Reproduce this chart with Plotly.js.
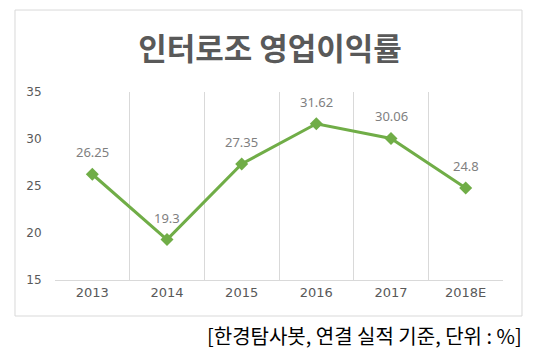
<!DOCTYPE html>
<html>
<head>
<meta charset="utf-8">
<script src="https://cdn.plot.ly/plotly-3.0.1.min.js"></script>
<style>html,body{margin:0;padding:0;background:#fff;}#chart{width:535px;height:354px;}</style>
</head>
<body>
<div id="chart"></div>
<script>
const years = ['2013', '2014', '2015', '2016', '2017', '2018E'];
const margins = [26.25, 19.3, 27.35, 31.62, 30.06, 24.8];
const valueLabels = ['26.25', '19.3', '27.35', '31.62', '30.06', '24.8'];
const yTicks = [15, 20, 25, 30, 35];
const titleText = '인터로조 영업이익률';
const sourceText = '[한경탐사봇, 연결 실적 기준, 단위 : %]';

const cjk = '"Noto Sans CJK KR", "Noto Sans", sans-serif';
const latin = '"DejaVu Sans", sans-serif';

const trace = {
  x: years, y: margins, type: 'scatter', mode: 'lines+markers',
  line: {color: '#70ad47', width: 3},
  marker: {symbol: 'diamond', size: 10, color: '#70ad47'},
  hoverinfo: 'skip', cliponaxis: false
};

// on a category axis, annotation x is the category index
const annotations = years.map((yr, i) => ({
  x: i, y: margins[i], xref: 'x', yref: 'y', text: valueLabels[i],
  showarrow: false, yshift: 22, font: {family: '"Noto Sans", sans-serif', size: 13, color: '#7f7f7f'}
}));
annotations.push({
  xref: 'paper', yref: 'paper', x: 1.047, y: (280 - 335) / 188, xanchor: 'right', yanchor: 'middle',
  text: sourceText, showarrow: false, font: {family: cjk, size: 20, color: '#000000'}
});

const layout = {
  width: 535, height: 354,
  margin: {l: 55, r: 32, t: 92, b: 74},
  paper_bgcolor: '#ffffff', plot_bgcolor: '#ffffff',
  showlegend: false,
  title: {text: titleText, x: 270 / 535, xref: 'container', xanchor: 'center', y: 1 - 49/354, yref: 'container', yanchor: 'middle',
          font: {family: cjk, size: 31, color: '#595959', weight: 'bold'}},
  xaxis: {type: 'category', categoryorder: 'array', categoryarray: years, range: [-0.5, years.length - 0.5],
          tickson: 'boundaries', showgrid: true, gridcolor: '#d9d9d9', gridwidth: 1,
          showline: true, linecolor: '#d9d9d9', linewidth: 1, zeroline: false,
          ticks: 'outside', ticklen: 12, tickcolor: 'rgba(0,0,0,0)',
          tickfont: {family: latin, size: 13, color: '#595959'}, fixedrange: true},
  yaxis: {range: [15, 35], tickvals: yTicks, showgrid: false, zeroline: false, showline: false,
          ticks: 'outside', ticklen: 10, tickcolor: 'rgba(0,0,0,0)',
          tickfont: {family: latin, size: 12, color: '#595959'}, fixedrange: true},
  shapes: [{type: 'rect', xref: 'paper', yref: 'paper', x0: -0.0893, x1: 1.0424, y0: -0.1915, y1: 1.436,
            line: {color: '#d9d9d9', width: 1}, fillcolor: 'rgba(0,0,0,0)', layer: 'below'}],
  annotations: annotations
};

Plotly.newPlot('chart', [trace], layout, {displayModeBar: false, staticPlot: true});
</script>
</body>
</html>
